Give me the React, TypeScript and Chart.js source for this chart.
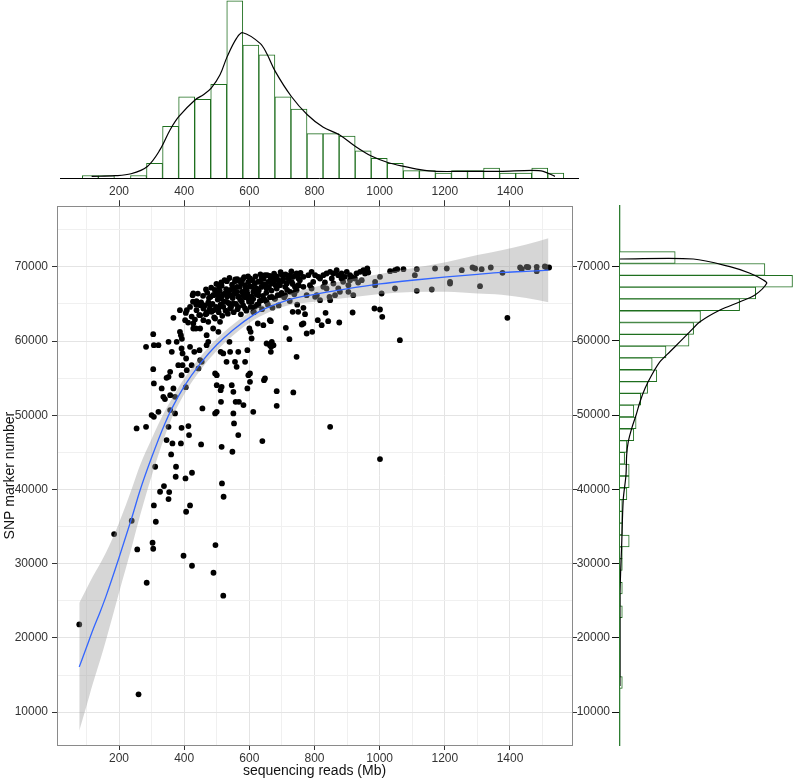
import React, { useEffect, useRef } from 'react';
import { Chart, registerables } from 'chart.js';

Chart.register(...registerables);

const FONT = '"Liberation Sans", Arial, Helvetica, sans-serif';

// ---------- main scatter: [sequencing reads (Mb), SNP marker number] ----------
const scatterPoints: [number, number][] = [
  // low region
  [78, 21826], [185, 33994], [239, 35790], [256, 31929], [260, 12397], [285, 27439], [303, 32827], [305, 32019],
  [307, 37856], [313, 35656], [326, 39697], [338, 40460], [352, 38709], [354, 39652], [398, 31076], [406, 37002],
  [418, 37856], [424, 29729], [490, 28786], [496, 32513], [516, 40819], [521, 39023], [520, 25688],
  // middle region
  [254, 48228], [283, 48452], [300, 50024], [307, 49800], [321, 50473], [283, 59229], [305, 60935], [307, 59453],
  [321, 59453], [305, 56220], [307, 54290], [331, 53616], [336, 52494], [341, 52180], [346, 55053], [352, 55188],
  [357, 55861], [362, 58555], [352, 59902], [367, 63135], [357, 52718], [367, 53616], [372, 52494], [357, 50698],
  [372, 50249], [352, 48452], [346, 46656], [360, 44726], [364, 46207], [390, 46207], [375, 43064], [374, 41717],
  [404, 41492], [424, 42256], [311, 43064], [392, 48318], [413, 48542], [415, 47330], [387, 61249], [390, 60800],
  [393, 60300], [377, 59902], [387, 64168], [408, 64168], [403, 62821], [392, 59004], [395, 58331], [406, 57657],
  [395, 56759], [382, 56759], [392, 55412], [408, 56085], [405, 53796], [418, 59229], [423, 56759], [431, 58555],
  [428, 61698], [428, 62372], [428, 66413], [438, 64168], [436, 61698], [449, 61698], [447, 58780], [449, 57433],
  [444, 56310], [454, 57208], [467, 66951], [469, 63719], [469, 60800], [474, 59902], [469, 59453], [479, 64841],
  [484, 63943], [489, 66188], [495, 63045], [489, 61698], [495, 55637], [500, 55412], [500, 54065], [456, 50922],
  [495, 50249], [500, 50473], [452, 46073], [515, 45758], [548, 45085], [507, 67311], [510, 62597], [505, 61249],
  [515, 53841], [512, 53392], [513, 51820], [512, 58555], [520, 58331], [530, 57208], [539, 59902], [541, 58555],
  [546, 54065], [551, 53167], [551, 50249], [553, 48901], [558, 51820], [561, 56534], [556, 57208], [566, 58555],
  [568, 51820], [566, 47330], [582, 51371], [587, 57208], [594, 58780], [594, 53616], [597, 55412], [602, 55637],
  [602, 54514], [604, 61249], [600, 61698], [612, 50473], [607, 60351], [612, 63943], [626, 62372], [640, 46522],
  [643, 62148], [648, 54963], [645, 54739], [663, 62821], [663, 59453], [653, 59678], [666, 58555], [667, 59229],
  [674, 59453], [669, 59902], [666, 62686], [684, 53257], [684, 51281], [712, 61788], [723, 60261], [735, 53077],
  [745, 57882], [733, 63943], [750, 63943],
  // dense cluster
  [426, 66188], [438, 65380], [449, 64841], [459, 64392], [469, 63853], [474, 65200], [481, 65964], [490, 66188],
  [498, 66278], [505, 66188], [510, 65739], [515, 65964], [526, 66413], [536, 66637], [541, 66188], [551, 67086],
  [556, 68074], [561, 66637], [566, 65964], [571, 67311], [577, 66637], [582, 66188], [587, 67535], [592, 66862],
  [597, 67984], [602, 68433], [607, 67311], [612, 66637], [617, 67760], [622, 67086], [628, 66188], [633, 67984],
  [638, 68433], [643, 67625], [648, 68882], [653, 67086], [658, 67984], [663, 68792], [669, 67760], [674, 68658],
  [679, 68209], [684, 67086], [689, 68209], [694, 67535], [699, 68972], [704, 68433], [710, 67311], [715, 67760],
  [725, 68882], [730, 67984], [735, 68658], [740, 67311], [745, 69107], [751, 68433],
  [449, 63494], [459, 62821], [474, 62596], [490, 64168], [505, 64392], [520, 64617], [531, 65290], [541, 64392],
  [551, 65066], [566, 64617], [577, 65290], [587, 64392], [597, 65739], [607, 65290], [617, 64617], [628, 64841],
  [638, 65515], [653, 65290], [669, 65964], [679, 65739], [694, 66188], [710, 66188], [725, 66637], [740, 66637],
  [515, 67446], [531, 68074], [563, 68343], [580, 68343],
  [452, 65200], [458, 66100], [463, 64800], [466, 63600], [471, 66500], [476, 65800], [478, 64300], [483, 67200],
  [487, 65000], [492, 63200], [494, 66900], [498, 64600], [499, 67700],
  [503, 65600], [506, 63900], [509, 66800], [512, 64900], [514, 67900], [517, 63400], [519, 66300], [522, 65300],
  [524, 68200], [527, 64100], [529, 67000], [532, 66000], [534, 63700], [537, 65100], [539, 68500], [542, 66900],
  [544, 64600], [547, 67600], [549, 65800],
  [552, 63900], [554, 66400], [557, 68300], [559, 65000], [562, 67300], [564, 64300], [567, 66000], [569, 68100],
  [572, 65600], [574, 63600], [576, 67800], [579, 66600], [581, 64800], [584, 68600], [586, 65900], [589, 67100],
  [591, 64100], [594, 66400], [596, 68700], [599, 65300],
  [602, 67400], [604, 64600], [607, 66000], [609, 68200], [612, 65700], [614, 63900], [617, 67000], [619, 68700],
  [622, 66300], [624, 64900], [627, 68000], [629, 66800], [632, 65400], [634, 69000], [637, 67300], [639, 64300],
  [642, 66100], [644, 68400], [647, 65600], [649, 67600],
  [652, 66500], [655, 68900], [657, 64900], [660, 67300], [663, 65900], [665, 68500], [668, 66800], [671, 64500],
  [673, 67900], [676, 69100], [678, 65700], [681, 67500], [684, 68700], [687, 66200], [690, 64800], [693, 67900],
  [696, 69300], [699, 66500],
  [703, 68100], [707, 65900], [711, 69000], [716, 66900], [720, 68400], [724, 65400], [729, 69400], [733, 67700],
  [738, 66300], [742, 68900], [747, 64900], [752, 67500], [757, 69200],
  [405, 63800], [412, 62500], [418, 64600], [423, 63300], [427, 65300], [433, 62900], [437, 64900], [442, 66400],
  [446, 63500],
  // right part
  [766, 64482], [771, 63629], [766, 62372], [761, 62237], [776, 61025], [793, 61249], [810, 62820], [822, 62147],
  [834, 63808], [842, 62686], [876, 62506], [917, 63853], [984, 64392], [1001, 64257], [1008, 63270], [1062, 60127],
  [1392, 63135], [848, 48453], [1001, 44097],
  [745, 66862], [750, 67535], [766, 67311], [776, 66188], [786, 67535], [791, 67086], [802, 65964], [807, 66188],
  [817, 65515], [827, 67311], [837, 67086], [846, 65964], [848, 65515], [858, 67760], [863, 66188], [873, 67086],
  [878, 66637], [888, 67984], [904, 67535], [904, 66637], [909, 68209], [919, 66188], [945, 68209], [986, 67535],
  [986, 67984], [1001, 68658], [1006, 66413], [1047, 67086], [1108, 68882], [1114, 66772], [1160, 66951], [1216, 67984],
  [1216, 67760], [1308, 67401],
  [750, 68972], [766, 68658], [781, 68882], [791, 69331], [802, 68882], [812, 68658], [827, 68882], [837, 69107],
  [848, 69331], [858, 69107], [868, 69556], [873, 68882], [883, 69107], [899, 69331], [909, 68882], [914, 68658],
  [929, 69107], [940, 69331], [950, 69556], [962, 69780], [1032, 69421], [1047, 69556], [1054, 69690], [1073, 69690],
  [1114, 69690], [1170, 69780], [1206, 69780], [1252, 69556], [1285, 69915], [1293, 69780], [1313, 69690], [1341, 69915],
  [1377, 69196], [1431, 69915], [1436, 69690], [1451, 70004], [1456, 69960], [1482, 70004], [1482, 69421], [1507, 70049],
  [1513, 69915], [1520, 69915],
  [755, 68209], [796, 67984], [817, 68433], [832, 67894], [853, 68433], [883, 68433], [893, 68658], [924, 68433],
  [934, 67894], [955, 69107], [965, 69241],
];

// ---------- smoothing curve and its confidence band ----------
const smoothX = [78, 100, 120, 142, 160, 200, 240, 264, 300, 340, 362, 400, 450, 500, 550, 612, 650, 715, 800, 894, 1001, 1100, 1206, 1300, 1374, 1450, 1518];
const smoothY = [16100, 18700, 21100, 23500, 25600, 30800, 36300, 39800, 44300, 48800, 50900, 53900, 57000, 59500, 61500, 63500, 64400, 65500, 66300, 67000, 67700, 68200, 68650, 69000, 69250, 69400, 69550];
const bandLower = [7500, 10800, 13900, 17000, 19700, 26100, 32400, 36400, 41800, 47100, 49600, 52850, 56100, 58700, 60750, 62800, 63700, 64750, 65300, 65800, 66350, 66600, 66650, 66400, 66250, 65800, 65250];
const bandUpper = [24700, 26600, 28300, 30000, 31500, 35500, 40200, 43200, 46800, 50500, 52200, 54950, 57900, 60300, 62250, 64200, 65100, 66250, 67300, 68200, 69050, 69800, 70650, 71600, 72250, 73000, 73850];

// ---------- axes ----------
const xTickValues = [100, 200, 300, 400, 500, 600, 700, 800, 900, 1000, 1100, 1200, 1300, 1400, 1500];
const xLabelValues = [200, 400, 600, 800, 1000, 1200, 1400];
const yTickValues = [10000, 15000, 20000, 25000, 30000, 35000, 40000, 45000, 50000, 55000, 60000, 65000, 70000, 75000];
const yLabelValues = [10000, 20000, 30000, 40000, 50000, 60000, 70000];
const X_MIN = 9.7;
const X_MAX = 1590.3;
const Y_MIN = 5573;
const Y_MAX = 78176;

// ---------- top marginal histogram (sequencing reads) ----------
const topBinCenters = [112.0, 161.3, 210.5, 259.8, 309.0, 358.3, 407.6, 456.8, 506.1, 555.3, 604.6, 653.9, 703.1, 752.4, 801.6,
  850.9, 900.2, 949.4, 998.7, 1047.9, 1097.2, 1146.5, 1195.7, 1245.0, 1294.2, 1343.5, 1392.8, 1442.0, 1491.3, 1540.5];
const topBinCounts = [1, 1, 0, 1, 6, 21, 33, 32, 38, 72, 54, 50, 33, 28, 18, 18, 17, 11, 8, 6, 3, 3, 2, 3, 3, 4, 2, 2, 4, 2];
const topDensX = [116, 188, 237, 287, 326, 357, 384, 434, 459, 483, 510, 532, 561, 580, 633, 653, 680, 729, 778, 827, 876, 926, 976, 1025, 1074, 1124, 1173, 1271, 1369, 1468, 1502, 1538];
const topDensY = [0.65, 0.93, 1.74, 4.7, 11.5, 19.6, 25.0, 31.8, 33.8, 36.5, 41.9, 49.3, 56.8, 59.0, 54.7, 50.7, 43.2, 33.1, 25.7, 20.6, 17.6, 12.8, 8.8, 6.3, 4.7, 3.4, 2.7, 2.7, 2.7, 3.1, 2.7, 0.65];

// ---------- right marginal histogram (SNP marker number) ----------
const rightBinCenters = [71225, 69635, 68045, 66455, 64865, 63275, 61685, 60095, 58505, 56915, 55325, 53735, 52145, 50555, 48965,
  47375, 45785, 44195, 42605, 41015, 39425, 37835, 36245, 34655, 33065, 31475, 29885, 28295, 26705, 25115, 23525, 21935,
  20345, 18755, 17165, 15575, 13985];
const rightBinCounts = [24, 63, 75, 59, 52, 35, 32, 30, 20, 14, 16, 12, 9, 6, 7, 6, 3, 2, 4, 4, 3, 1, 1, 1, 4, 1, 1, 0, 1, 0, 1, 0, 0, 0, 0, 0, 1];
const rightDensSnp = [71037, 71037, 70000, 69110, 68209, 67764, 66188, 65286, 64168, 62592, 61245, 59898, 58550, 57203, 55412, 53621, 51815, 50024, 48233, 46428, 44636, 41942, 38575, 32284, 29145, 25549, 13520];
const rightDensVal = [0, 31.9, 47.8, 56.5, 62.3, 63.8, 58.7, 52.2, 43.5, 34.8, 30.4, 26.1, 21.7, 17.4, 13.8, 10.9, 8.7, 7.0, 5.1, 3.6, 2.9, 2.6, 1.4, 0.7, 0.3, 0, 0];

const HIST_GREEN = '#1f6f1f';
const TICK_TEXT = '#333333';

function ChartCanvas({ make, left, top, width, height }: { make: () => any; left: number; top: number; width: number; height: number }) {
  const ref = useRef<HTMLCanvasElement>(null);
  useEffect(() => {
    const chart = new Chart(ref.current as HTMLCanvasElement, make());
    return () => chart.destroy();
  }, []);
  return (
    <canvas
      ref={ref}
      width={width}
      height={height}
      style={{ position: 'absolute', left, top, width, height }}
    />
  );
}

const isMajorX = (v: any) => xLabelValues.includes(Number(v));
const isMajorY = (v: any) => yLabelValues.includes(Number(v));
const plainLabel = (v: any) => String(v);

function makeMain() {
  return {
    type: 'scatter',
    data: {
      datasets: [
        {
          type: 'line',
          label: 'loess',
          data: smoothX.map((x, i) => ({ x, y: smoothY[i] })),
          borderColor: '#3366ff',
          borderWidth: 1.3,
          pointRadius: 0,
          cubicInterpolationMode: 'monotone',
          fill: false,
          order: 0,
        },
        {
          type: 'line',
          label: 'upper',
          data: smoothX.map((x, i) => ({ x, y: bandUpper[i] })),
          borderWidth: 0,
          borderColor: 'rgba(0,0,0,0)',
          pointRadius: 0,
          cubicInterpolationMode: 'monotone',
          fill: '+1',
          backgroundColor: 'rgba(153,153,153,0.4)',
          order: 1,
        },
        {
          type: 'line',
          label: 'lower',
          data: smoothX.map((x, i) => ({ x, y: bandLower[i] })),
          borderWidth: 0,
          borderColor: 'rgba(0,0,0,0)',
          pointRadius: 0,
          cubicInterpolationMode: 'monotone',
          fill: false,
          order: 1,
        },
        {
          type: 'scatter',
          label: 'samples',
          data: scatterPoints.map(([x, y]) => ({ x, y })),
          pointRadius: 2.9,
          backgroundColor: '#000000',
          borderWidth: 0,
          order: 2,
        },
      ],
    },
    options: {
      animation: false,
      responsive: false,
      events: [],
      plugins: { legend: { display: false }, tooltip: { enabled: false } },
      layout: { padding: 0 },
      scales: {
        x: {
          type: 'linear',
          position: 'bottom',
          min: X_MIN,
          max: X_MAX,
          afterBuildTicks: (a: any) => { a.ticks = xTickValues.map((v) => ({ value: v })); },
          afterFit: (s: any) => { s.height = 35; },
          ticks: {
            callback: (v: any) => (isMajorX(v) ? String(v) : ''),
            autoSkip: false,
            maxRotation: 0,
            color: TICK_TEXT,
            font: { family: FONT, size: 12 },
            padding: 1,
          },
          grid: {
            color: (c: any) => (c.tick && isMajorX(c.tick.value) ? '#e4e4e4' : '#f0f0f0'),
            tickColor: (c: any) => (c.tick && isMajorX(c.tick.value) ? '#333' : 'rgba(0,0,0,0)'),
            tickLength: 5,
            lineWidth: 1,
          },
          border: { display: true, color: '#8a8a8a', width: 1 },
          title: { display: true, text: 'sequencing reads (Mb)', color: '#111', font: { family: FONT, size: 14 }, padding: { top: 0, bottom: 0 } },
        },
        x2: {
          type: 'linear',
          position: 'top',
          min: X_MIN,
          max: X_MAX,
          afterBuildTicks: (a: any) => { a.ticks = xLabelValues.map((v) => ({ value: v })); },
          afterFit: (s: any) => { s.height = 11; },
          ticks: { callback: () => '', autoSkip: false, maxRotation: 0 },
          grid: { drawOnChartArea: false, tickLength: 6, tickColor: '#333' },
          border: { display: true, color: '#8a8a8a', width: 1 },
        },
        y: {
          type: 'linear',
          position: 'left',
          min: Y_MIN,
          max: Y_MAX,
          afterBuildTicks: (a: any) => { a.ticks = yTickValues.map((v) => ({ value: v })); },
          afterFit: (s: any) => { s.width = 57; },
          ticks: {
            callback: (v: any) => (isMajorY(v) ? String(v) : ''),
            autoSkip: false,
            color: TICK_TEXT,
            font: { family: FONT, size: 12 },
            padding: 4,
          },
          grid: {
            color: (c: any) => (c.tick && isMajorY(c.tick.value) ? '#e4e4e4' : '#f0f0f0'),
            tickColor: (c: any) => (c.tick && isMajorY(c.tick.value) ? '#333' : 'rgba(0,0,0,0)'),
            tickLength: 5,
            lineWidth: 1,
          },
          border: { display: true, color: '#8a8a8a', width: 1 },
          title: { display: true, text: 'SNP marker number', color: '#111', font: { family: FONT, size: 14 }, padding: { top: 2, bottom: 0 } },
        },
        y2: {
          type: 'linear',
          position: 'right',
          min: Y_MIN,
          max: Y_MAX,
          afterBuildTicks: (a: any) => { a.ticks = yLabelValues.map((v) => ({ value: v })); },
          afterFit: (s: any) => { s.width = 13; },
          ticks: { callback: () => '', autoSkip: false },
          grid: { drawOnChartArea: false, tickLength: 5, tickColor: '#333' },
          border: { display: true, color: '#8a8a8a', width: 1 },
        },
      },
    },
  };
}

function makeTop() {
  return {
    type: 'bar',
    data: {
      datasets: [
        {
          type: 'line',
          label: 'density',
          data: topDensX.map((x, i) => ({ x, y: topDensY[i] })),
          borderColor: '#000',
          borderWidth: 1.2,
          pointRadius: 0,
          tension: 0.35,
          fill: false,
          order: 0,
        },
        {
          type: 'bar',
          label: 'count',
          data: topBinCenters.map((x, i) => ({ x, y: topBinCounts[i] })).filter((d) => d.y > 0),
          backgroundColor: '#ffffff',
          borderColor: HIST_GREEN,
          borderWidth: 1,
          barPercentage: 1,
          categoryPercentage: 1,
          order: 1,
        },
      ],
    },
    options: {
      animation: false,
      responsive: false,
      events: [],
      plugins: { legend: { display: false }, tooltip: { enabled: false } },
      layout: { padding: { left: 60, right: 22, top: 0, bottom: 0 } },
      scales: {
        x: {
          type: 'linear',
          offset: false,
          min: 18.9,
          max: 1608.7,
          afterBuildTicks: (a: any) => { a.ticks = xLabelValues.map((v) => ({ value: v })); },
          afterFit: (s: any) => { s.height = 22; },
          grid: { display: false, drawTicks: false, offset: false },
          border: { display: true, color: '#000', width: 1 },
          ticks: { callback: plainLabel, color: TICK_TEXT, font: { family: FONT, size: 12 }, padding: 6, maxRotation: 0, autoSkip: false },
        },
        y: { type: 'linear', display: false, min: 0, max: 72.3 },
      },
    },
  };
}

function makeRight() {
  return {
    type: 'bar',
    data: {
      datasets: [
        {
          type: 'line',
          label: 'density',
          data: rightDensSnp.map((y, i) => ({ x: rightDensVal[i], y })),
          borderColor: '#000',
          borderWidth: 1.2,
          pointRadius: 0,
          tension: 0.3,
          fill: false,
          indexAxis: 'y',
          order: 0,
        },
        {
          type: 'bar',
          label: 'count',
          data: rightBinCenters.map((y, i) => ({ x: rightBinCounts[i], y })).filter((d) => d.x > 0),
          backgroundColor: '#ffffff',
          borderColor: HIST_GREEN,
          borderWidth: 1,
          barPercentage: 1,
          categoryPercentage: 1,
          order: 1,
        },
      ],
    },
    options: {
      indexAxis: 'y',
      animation: false,
      responsive: false,
      events: [],
      plugins: { legend: { display: false }, tooltip: { enabled: false } },
      layout: { padding: { left: 0, right: 0, top: 11, bottom: 15 } },
      scales: {
        x: { type: 'linear', display: false, min: 0, max: 75.65, offset: false },
        y: {
          type: 'linear',
          position: 'left',
          offset: false,
          min: Y_MIN,
          max: Y_MAX,
          afterBuildTicks: (a: any) => { a.ticks = yLabelValues.map((v) => ({ value: v })); },
          afterFit: (s: any) => { s.width = 50; },
          grid: { drawOnChartArea: false, drawTicks: true, tickLength: 8, tickColor: '#111', offset: false },
          border: { display: true, color: '#2e7d32', width: 1.3 },
          ticks: { callback: plainLabel, color: TICK_TEXT, font: { family: FONT, size: 12 }, padding: 2, autoSkip: false },
        },
      },
    },
  };
}

export default function App() {
  return (
    <div style={{ position: 'absolute', left: 0, top: 0, width: 794, height: 780, background: '#ffffff', overflow: 'hidden' }}>
      <ChartCanvas make={makeTop} left={0} top={0} width={600} height={200} />
      <ChartCanvas make={makeMain} left={0} top={195} width={585} height={585} />
      <ChartCanvas make={makeRight} left={570} top={195} width={224} height={565} />
    </div>
  );
}
